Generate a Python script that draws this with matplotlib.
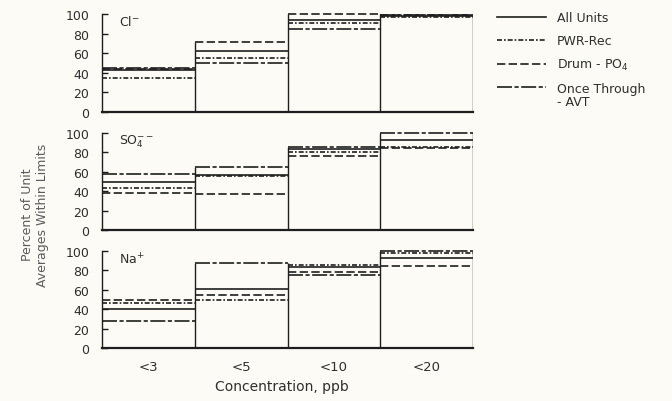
import matplotlib
matplotlib.use('Agg')
import matplotlib.pyplot as plt
from matplotlib.lines import Line2D

plt.rcParams['font.family'] = ['DejaVu Sans']
plt.rcParams['mathtext.default'] = 'regular'

# Categories (concentration limits)
categorias = ['<3', '<5', '<10', '<20']
series = ['All Units', 'PWR-Rec', 'Drum - PO$_4$', 'Once Through']

# Percent of unit averages within limits, per ion, per series
cl_all = [43, 62, 94, 98]
cl_pwr = [35, 55, 91, 97]
cl_drum = [44, 71, 100, 99]
cl_once = [45, 50, 85, 99]

so4_all = [50, 57, 84, 93]
so4_pwr = [43, 56, 80, 86]
so4_drum = [38, 37, 76, 85]
so4_once = [58, 65, 86, 100]

na_all = [40, 61, 83, 93]
na_pwr = [46, 49, 86, 98]
na_drum = [49, 55, 78, 85]
na_once = [28, 88, 75, 100]

paineis = [
    ('Cl$^{-}$', [cl_all, cl_pwr, cl_drum, cl_once]),
    ('SO$_4^{--}$', [so4_all, so4_pwr, so4_drum, so4_once]),
    ('Na$^{+}$', [na_all, na_pwr, na_drum, na_once]),
]

estilos = ['-', (0, (3, 1.2, 1, 1.2)), (0, (5, 2)), (0, (9, 1.5, 2.5, 1.5))]
cor = '#1e1e1e'
texto = '#2e2e2e'
fundo = '#fcfbf6'

fig = plt.figure(figsize=(6.72, 4.02), dpi=100, facecolor=fundo)

# posicoes dos paineis em pixeis (topo, base)
topos = [(15, 113), (134, 231), (252, 349)]
esq, dir_ = 102, 473

for k, (rotulo, dados) in enumerate(paineis):
    t, b = topos[k]
    ax = fig.add_axes([esq / 672, 1 - b / 402, (dir_ - esq) / 672, (b - t) / 402])
    ax.set_facecolor(fundo)
    ax.set_xlim(-0.5, 3.5)
    ax.set_ylim(0, 100)

    # linhas horizontais de cada serie
    for valores, ls in zip(dados, estilos):
        for i, v in enumerate(valores):
            ax.hlines(v, i - 0.5, i + 0.5, colors=cor, linestyles=ls, linewidth=1.2,
                      clip_on=False)

    # arestas verticais entre colunas
    topo_col = [max(col) for col in zip(*dados)]
    for i in range(len(categorias)):
        proximo = topo_col[i + 1] if i + 1 < len(categorias) else 0
        ax.vlines(i + 0.5, 0, max(topo_col[i], proximo), colors=cor, linewidth=1.0)

    for lado in ['top', 'right']:
        ax.spines[lado].set_visible(False)
    ax.spines['left'].set_color(cor)
    ax.spines['left'].set_linewidth(1.0)
    ax.spines['bottom'].set_color(cor)
    ax.spines['bottom'].set_linewidth(1.6)

    ax.set_yticks([0, 20, 40, 60, 80, 100])
    ax.tick_params(axis='y', direction='in', length=4, width=1, colors=cor,
                   labelsize=9, labelcolor=texto, pad=9)
    ax.set_xticks(range(len(categorias)))
    if k == 2:
        ax.set_xticklabels(categorias)
        ax.tick_params(axis='x', length=0, labelsize=9.5, labelcolor=texto, pad=9)
    else:
        ax.tick_params(axis='x', length=0, labelbottom=False)

    ax.text(0.045, 1.0, rotulo, transform=ax.transAxes, fontsize=9, color=texto,
            va='top', ha='left')

fig.text(282 / 672, 1 - 387 / 402, 'Concentration, ppb', ha='center', va='center',
         fontsize=10, color=texto)
fig.text(35 / 672, 1 - 215 / 402, 'Percent of Unit\nAverages Within Limits', rotation=90,
         ha='center', va='center', multialignment='center', fontsize=9, color='#5a5a5a',
         linespacing=1.25)

handles = [Line2D([], [], color=cor, linestyle=ls, linewidth=1.2) for ls in estilos]
leg = fig.legend(handles, series, loc='upper left', bbox_to_anchor=(497 / 672, 1 - 12.5 / 402),
                 frameon=False, fontsize=9, handlelength=3.9, handletextpad=0.9,
                 labelspacing=0.78, borderpad=0, borderaxespad=0, labelcolor=texto)
fig.text(557 / 672, 1 - 102 / 402, '- AVT', ha='left', va='center', fontsize=9, color=texto)

fig.savefig('out.png', dpi=100, facecolor=fundo)
